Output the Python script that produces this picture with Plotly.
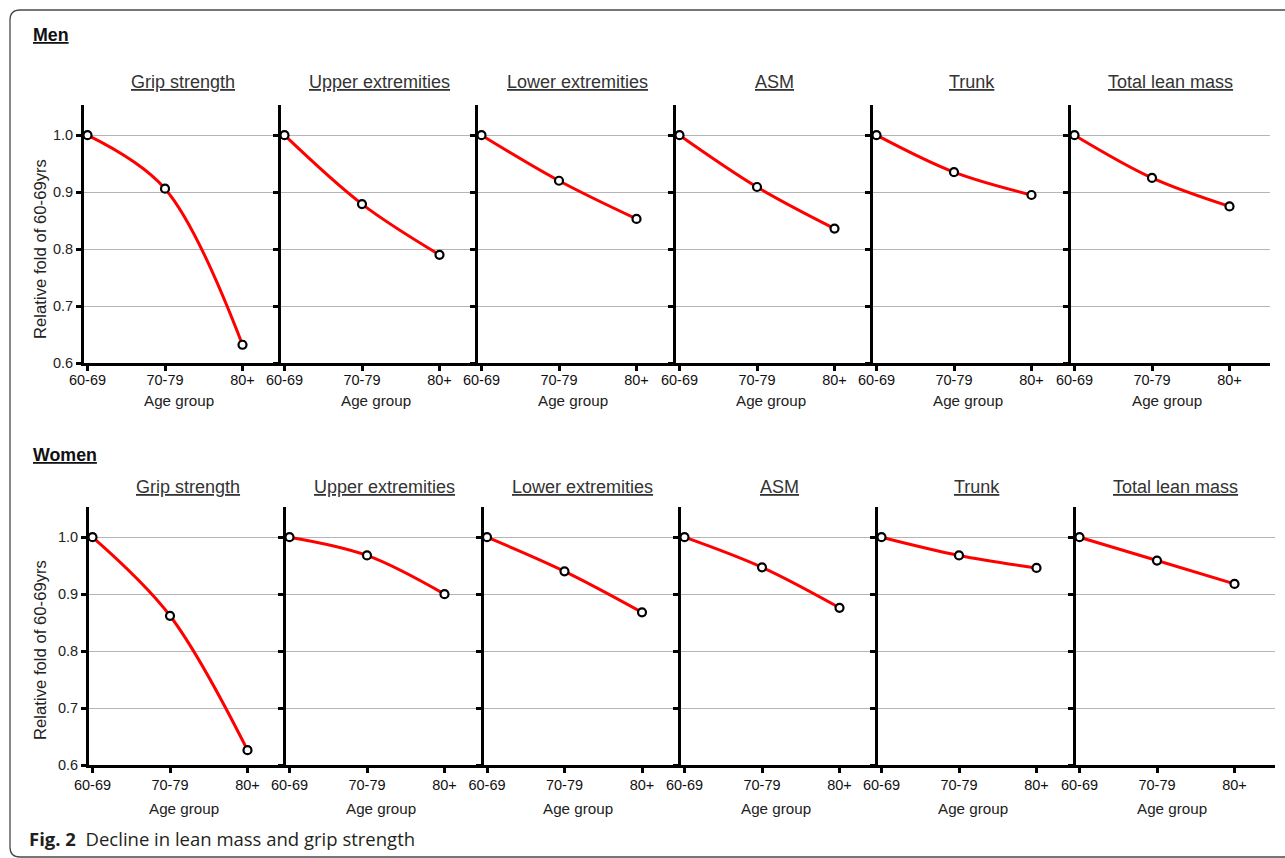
import plotly.graph_objects as go

# ---------------- data ----------------
age_groups = ["60-69", "70-79", "80+"]
panel_titles = ["Grip strength", "Upper extremities", "Lower extremities",
                "ASM", "Trunk", "Total lean mass"]

men_grip = [1.0, 0.906, 0.632]
men_upper = [1.0, 0.879, 0.790]
men_lower = [1.0, 0.920, 0.853]
men_asm = [1.0, 0.909, 0.836]
men_trunk = [1.0, 0.935, 0.895]
men_total = [1.0, 0.925, 0.875]

women_grip = [1.0, 0.862, 0.626]
women_upper = [1.0, 0.968, 0.900]
women_lower = [1.0, 0.940, 0.868]
women_asm = [1.0, 0.947, 0.876]
women_trunk = [1.0, 0.968, 0.946]
women_total = [1.0, 0.959, 0.918]

y_ticks = [0.6, 0.7, 0.8, 0.9, 1.0]

men_series = [men_grip, men_upper, men_lower, men_asm, men_trunk, men_total]
women_series = [women_grip, women_upper, women_lower, women_asm, women_trunk, women_total]

# ---------------- layout geometry (pixels) ----------------
W, H = 1285, 858
FONT = "Arial, Liberation Sans, sans-serif"
rows = [
    dict(name="Men", series=men_series,
         lefts=[84, 281, 478, 676, 873, 1071], right_end=1270,
         top=105, bottom=363, label_y=35, title_y=82, agegroup_y=400, ytitle_y=249),
    dict(name="Women", series=women_series,
         lefts=[89, 286, 483.5, 681, 878, 1076], right_end=1275,
         top=507, bottom=765, label_y=455, title_y=487, agegroup_y=808, ytitle_y=650),
]
STEP = 77.5      # pixels between categories
OFFSET = 3.5     # first category offset from axis line

fig = go.Figure()
annotations = []
layout_axes = {}

k = 0
for r, row in enumerate(rows):
    lefts = row["lefts"]
    rights = lefts[1:] + [row["right_end"]]
    for i, vals in enumerate(row["series"]):
        k += 1
        L, R = lefts[i], rights[i]
        xname = "xaxis" if k == 1 else f"xaxis{k}"
        yname = "yaxis" if k == 1 else f"yaxis{k}"
        xref = "x" if k == 1 else f"x{k}"
        yref = "y" if k == 1 else f"y{k}"
        fig.add_trace(go.Scatter(
            x=age_groups, y=vals, xaxis=xref, yaxis=yref,
            mode="lines+markers",
            line=dict(color="#ff0000", width=3, shape="spline", smoothing=1.0),
            marker=dict(symbol="circle", size=8, color="white",
                        line=dict(color="black", width=2.2)),
            cliponaxis=False, showlegend=False, hoverinfo="skip"))
        layout_axes[xname] = dict(
            domain=[L / W, R / W], anchor=yref, type="category",
            range=[-OFFSET / STEP, (R - L - OFFSET) / STEP],
            showline=True, linecolor="black", linewidth=3,
            ticks="outside", ticklen=5, tickwidth=2.5, tickcolor="black",
            ticklabelstandoff=-3 if r == 0 else 0,
            showgrid=False, zeroline=False, fixedrange=True, automargin=False,
            tickfont=dict(family=FONT, size=14.5, color="#111"))
        layout_axes[yname] = dict(
            domain=[1 - row["bottom"] / H, 1 - row["top"] / H], anchor=xref,
            range=[0.6, 1.053], tickvals=y_ticks, tickformat=".1f",
            showticklabels=(i == 0),
            showline=True, linecolor="black", linewidth=3,
            ticks="outside", ticklen=5, tickwidth=2.5, tickcolor="black",
            showgrid=True, gridcolor="#b5b5b5", gridwidth=1.4,
            zeroline=False, fixedrange=True, automargin=False,
            tickfont=dict(family=FONT, size=14.5, color="#222"))
        # panel title (underlined)
        annotations.append(dict(
            text=panel_titles[i], xref="paper", yref="paper",
            x=(L + R) / 2 / W, y=1 - row["title_y"] / H,
            xanchor="center", yanchor="middle", showarrow=False,
            font=dict(family=FONT, size=18, color="#333", lineposition="under")))
        # x axis title
        annotations.append(dict(
            text="Age group", xref="paper", yref="paper",
            x=((L + R) / 2 - 4) / W, y=1 - row["agegroup_y"] / H,
            xanchor="center", yanchor="middle", showarrow=False,
            font=dict(family=FONT, size=15.2, color="#222")))
    # row label
    annotations.append(dict(
        text="<b>" + row["name"] + "</b>", xref="paper", yref="paper",
        x=31 / W, y=1 - row["label_y"] / H, xanchor="left", yanchor="middle",
        showarrow=False,
        font=dict(family=FONT, size=17.8, color="#111", lineposition="under")))
    # y axis title
    annotations.append(dict(
        text="Relative fold of 60-69yrs", xref="paper", yref="paper",
        x=40 / W, y=1 - row["ytitle_y"] / H, xanchor="center", yanchor="middle",
        textangle=-90, showarrow=False,
        font=dict(family=FONT, size=16.7, color="#222")))

# caption
annotations.append(dict(
    text="<b>Fig. 2</b>  Decline in lean mass and grip strength",
    xref="paper", yref="paper", x=27 / W, y=1 - 838 / H,
    xanchor="left", yanchor="middle", showarrow=False,
    font=dict(family="Open Sans, Noto Sans, sans-serif", size=18.5, color="#231f20")))

# rounded frame (right side off-canvas)
rx, ry = 10 / W, 10 / H
x0, y0, x1, y1 = 10 / W, 1 - 857 / H, 1.02, 1 - 10 / H
path = (f"M {x1} {y1} L {x0 + rx} {y1} Q {x0} {y1} {x0} {y1 - ry} "
        f"L {x0} {y0 + ry} Q {x0} {y0} {x0 + rx} {y0} L {x1} {y0}")
shapes = [dict(type="path", path=path, xref="paper", yref="paper",
               line=dict(color="#4a4a4a", width=1.3), layer="below")]

fig.update_layout(
    width=W, height=H, autosize=False,
    margin=dict(l=0, r=0, t=0, b=0, pad=0, autoexpand=False),
    showlegend=False,
    paper_bgcolor="white", plot_bgcolor="white",
    annotations=annotations, shapes=shapes, **layout_axes)

fig.write_html("out.html", config={"displayModeBar": False},
               post_script="document.body.style.margin='0';document.body.style.overflow='hidden';")
